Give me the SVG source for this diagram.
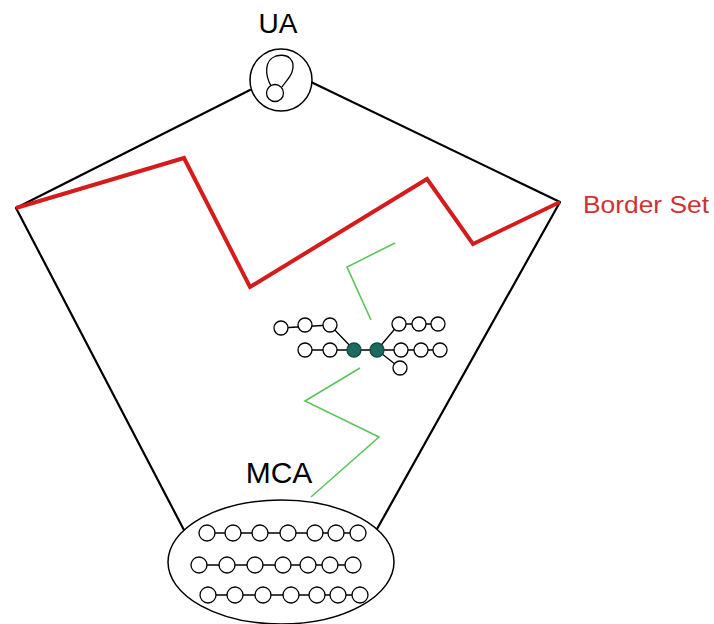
<svg xmlns="http://www.w3.org/2000/svg" width="714" height="624" viewBox="0 0 714 624">
<style>
.edge{fill:none;stroke:#000;stroke-width:2.2;stroke-linecap:round;stroke-linejoin:round}
.red{fill:none;stroke:#d41c1c;stroke-width:4;stroke-linejoin:miter}
.green{fill:none;stroke:#5cc45c;stroke-width:1.6;stroke-linejoin:miter}
.atom{fill:#fff;stroke:#000;stroke-width:1.3}
.atomf{fill:#1d6b60;stroke:#0e4a40;stroke-width:1.3}
.bond{fill:none;stroke:#000;stroke-width:1.3}
.lbl{font-family:"Liberation Sans",Arial,sans-serif;fill:#000}
</style>
<rect width="714" height="624" fill="#fff"/>
<g id="connectors">
  <polyline class="edge" points="250,90 16,208 185,532"/>
  <polyline class="edge" points="311,82 560,202 377,529"/>
  <polyline class="green" points="395,243 347,267 371,320"/>
  <polyline class="green" points="360,368 305,401 379,437 311,497"/>
</g>
<g id="border-set">
  <polyline class="red" points="16,208 184,158 250,287 427,179 473,244 560,202"/>
  <text class="lbl" x="583" y="213" font-size="24" style="fill:#cc3333" textLength="126" lengthAdjust="spacingAndGlyphs">Border Set</text>
</g>
<g id="ua">
  <text class="lbl" x="278" y="33" font-size="28" text-anchor="middle">UA</text>
  <circle cx="281" cy="80" r="31" fill="#fff" stroke="#000" stroke-width="1.5"/>
  <path d="M271 86 C265 75,264 60,276 56 C288 53,296 60,292 72 C290 78,285 82,282 87" fill="none" stroke="#000" stroke-width="1.3"/>
  <circle cx="275" cy="93" r="8.5" fill="#fff" stroke="#000" stroke-width="1.3"/>
</g>
<g id="molecule">
  <polyline class="bond" points="281,328 330,325 354,350"/>
  <polyline class="bond" points="305,350 440,350"/>
  <polyline class="bond" points="399,324 438,324"/>
  <polyline class="bond" points="399,324 377,350 400,368"/>
  <circle class="atom" cx="281" cy="328" r="7"/>
  <circle class="atom" cx="305" cy="325" r="7"/>
  <circle class="atom" cx="330" cy="325" r="7"/>
  <circle class="atom" cx="305" cy="350" r="7"/>
  <circle class="atom" cx="330" cy="350" r="7"/>
  <circle class="atomf" cx="354" cy="350" r="7"/>
  <circle class="atomf" cx="377" cy="350" r="7"/>
  <circle class="atom" cx="401" cy="350" r="7"/>
  <circle class="atom" cx="421" cy="350" r="7"/>
  <circle class="atom" cx="440" cy="350" r="7"/>
  <circle class="atom" cx="399" cy="324" r="7"/>
  <circle class="atom" cx="419" cy="324" r="7"/>
  <circle class="atom" cx="438" cy="324" r="7"/>
  <circle class="atom" cx="400" cy="368" r="7"/>
</g>
<g id="mca">
  <text class="lbl" x="279" y="483" font-size="30" text-anchor="middle">MCA</text>
  <ellipse cx="281" cy="562" rx="113" ry="62" fill="#fff" stroke="#000" stroke-width="1.5"/>
  <polyline class="bond" points="207,533 358,533"/>
  <polyline class="bond" points="199,565 353,565"/>
  <polyline class="bond" points="208,595 360,595"/>
  <g>
    <circle class="atom" cx="207" cy="533" r="8"/><circle class="atom" cx="233" cy="533" r="8"/><circle class="atom" cx="260" cy="533" r="8"/><circle class="atom" cx="288" cy="533" r="8"/><circle class="atom" cx="315" cy="533" r="8"/><circle class="atom" cx="336" cy="533" r="8"/><circle class="atom" cx="358" cy="533" r="8"/>
    <circle class="atom" cx="199" cy="565" r="8"/><circle class="atom" cx="227" cy="565" r="8"/><circle class="atom" cx="255" cy="565" r="8"/><circle class="atom" cx="283" cy="565" r="8"/><circle class="atom" cx="308" cy="565" r="8"/><circle class="atom" cx="330" cy="565" r="8"/><circle class="atom" cx="353" cy="565" r="8"/>
    <circle class="atom" cx="208" cy="595" r="8"/><circle class="atom" cx="235" cy="595" r="8"/><circle class="atom" cx="263" cy="595" r="8"/><circle class="atom" cx="291" cy="595" r="8"/><circle class="atom" cx="317" cy="595" r="8"/><circle class="atom" cx="338" cy="595" r="8"/><circle class="atom" cx="360" cy="595" r="8"/>
  </g>
</g>
</svg>
